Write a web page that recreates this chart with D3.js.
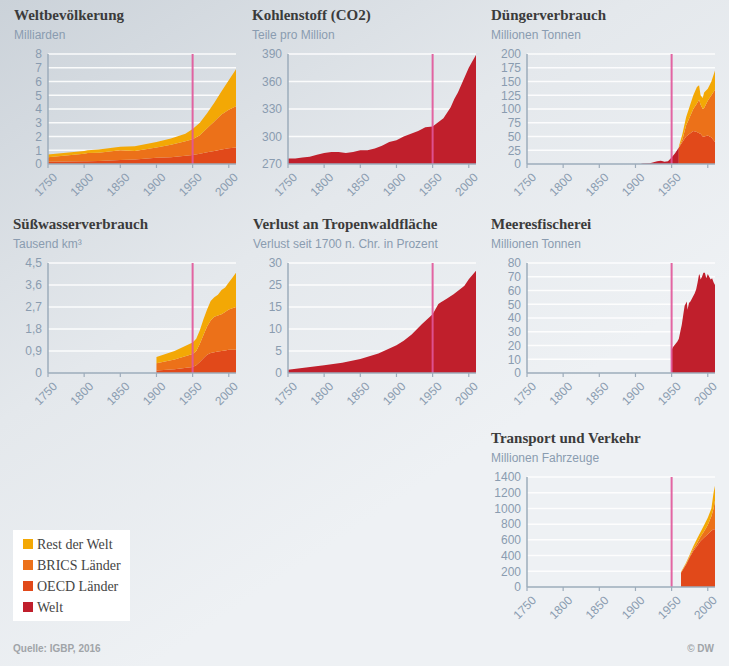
<!DOCTYPE html>
<html lang="de">
<head>
<meta charset="UTF-8">
<title>Die große Beschleunigung</title>
<script src="https://d3js.org/d3.v7.min.js"></script>
<style>
  body { margin: 0; }
  svg { display: block; }
</style>
</head>
<body>
<svg width="729" height="666"></svg>
<script>
const xTicks = [1750, 1800, 1850, 1900, 1950, 2000]
const legendNames = ["Rest der Welt", "BRICS Länder", "OECD Länder", "Welt"]

// Weltbevölkerung, Milliarden
const popYears = [1750, 1800, 1805, 1820, 1850, 1870, 1900, 1920, 1940, 1950, 1960, 1970, 1980, 1990, 2000, 2010]
const popOECD  = [0.17, 0.2, 0.2, 0.22, 0.3, 0.33, 0.45, 0.5, 0.6, 0.65, 0.75, 0.85, 0.95, 1.05, 1.15, 1.2]
const popBRICS = [0.33, 0.55, 0.6, 0.6, 0.7, 0.62, 0.75, 0.9, 1.05, 1.15, 1.35, 1.75, 2.15, 2.55, 2.8, 3.0]
const popRest  = [0.2, 0.2, 0.2, 0.23, 0.25, 0.35, 0.4, 0.45, 0.55, 0.75, 0.9, 1.1, 1.35, 1.7, 2.15, 2.7]

// Kohlenstoff (CO2), ppm
const co2Years  = [1750, 1760, 1770, 1780, 1790, 1800, 1810, 1820, 1830, 1840, 1850, 1860, 1870, 1880, 1890, 1900,
                   1910, 1920, 1930, 1940, 1950, 1955, 1960, 1965, 1970, 1975, 1980, 1985, 1990, 1995, 2000, 2005, 2010]
const co2Values = [276, 276, 277, 278, 280, 282, 283, 283, 282, 283, 285, 285, 287, 290, 294, 296,
                   300, 303, 306, 310, 311, 314, 317, 320, 326, 332, 341, 348, 357, 366, 375, 382, 389]

// Düngerverbrauch, Mio. t (Welt bis 1960, danach nach Ländergruppen)
const fertWorldYears  = [1907, 1910, 1920, 1925, 1930, 1935, 1938, 1940, 1945, 1950, 1955, 1960]
const fertWorldValues = [0, 1, 1.5, 3, 5, 6, 5, 4, 5, 12, 20, 30]
const fertYears = [1960, 1965, 1970, 1975, 1980, 1985, 1988, 1990, 1993, 1995, 2000, 2005, 2010]
const fertOECD  = [30, 40, 50, 55, 60, 58, 56, 55, 50, 50, 52, 48, 40]
const fertBRICS = [0, 5, 20, 30, 40, 52, 61, 53, 50, 52, 63, 77, 95]
const fertRest  = [2, 10, 15, 20, 25, 30, 26, 17, 20, 28, 22, 25, 35]

// Süßwasserverbrauch, Tausend km³
const waterYears = [1900, 1925, 1950, 1955, 1960, 1965, 1970, 1975, 1980, 1985, 1990, 1995, 2000, 2005, 2010]
const waterOECD  = [0.1, 0.15, 0.25, 0.32, 0.45, 0.6, 0.75, 0.82, 0.85, 0.88, 0.9, 0.92, 0.95, 0.95, 0.95]
const waterBRICS = [0.3, 0.4, 0.53, 0.58, 0.75, 0.95, 1.15, 1.33, 1.45, 1.47, 1.5, 1.58, 1.65, 1.7, 1.75]
const waterRest  = [0.25, 0.35, 0.47, 0.5, 0.55, 0.65, 0.7, 0.8, 0.8, 0.85, 1.0, 1.0, 1.1, 1.25, 1.4]

// Verlust an Tropenwaldfläche, % seit 1700
const forestYears  = [1750, 1775, 1800, 1825, 1850, 1875, 1900, 1910, 1921, 1935, 1950, 1958, 1961, 1970, 1979, 1991, 1994, 2000, 2010]
const forestValues = [0.9, 1.5, 2.1, 2.8, 3.8, 5.3, 7.6, 8.8, 10.5, 13.3, 16.0, 18.8, 19.2, 20.3, 21.5, 23.3, 23.8, 25.6, 27.9]
const forestTicks  = [0, 6, 12, 18, 24, 30]
const forestLabels = ["0", "5", "10", "15", "25", "30"]   // so beschriftet im Original

// Meeresfischerei, Mio. t
const fishYears  = [1950, 1952, 1955, 1958, 1960, 1962, 1964, 1966, 1968, 1970, 1971, 1972, 1974, 1976, 1978, 1980,
                    1982, 1984, 1986, 1988, 1989, 1990, 1992, 1994, 1996, 1998, 2000, 2002, 2004, 2006, 2008, 2010]
const fishValues = [17, 19, 21, 23, 25, 30, 35, 42, 49, 51, 52, 46, 51, 52, 54, 56,
                    58, 61, 66, 72, 71, 68, 70, 73, 73, 69, 72, 70, 68, 69, 66, 64]

// Transport und Verkehr, Mio. Fahrzeuge
const carYears = [1963, 1970, 1975, 1980, 1985, 1990, 1995, 2000, 2005, 2008, 2010]
const carOECD  = [180, 287, 380, 458, 520, 586, 630, 672, 715, 736, 736]
const carBRICS = [5, 8, 10, 22, 35, 54, 80, 118, 185, 264, 364]
const carRest  = [5, 15, 20, 40, 55, 60, 80, 90, 100, 200, 190]

// ---------- styles ----------
const colors = { rest: "#f3a805", brics: "#ec7119", oecd: "#e1491a", welt: "#c01f2c" }
const axisColor = "#9dacbb"
const labelColor = "#8a9cb0"
const markerColor = "#e2569a"

const svg = d3.select("svg")
const W = 729, H = 666

// background gradient
const defs = svg.append("defs")
const grad = defs.append("linearGradient").attr("id", "bg")
    .attr("x1", 0).attr("y1", 0).attr("x2", 0.55).attr("y2", 0.75)
grad.append("stop").attr("offset", 0).attr("stop-color", "#cbd2d9")
grad.append("stop").attr("offset", 0.55).attr("stop-color", "#e4e8ec")
grad.append("stop").attr("offset", 1).attr("stop-color", "#eef1f4")
svg.append("rect").attr("width", W).attr("height", H).attr("fill", "url(#bg)")

const colX = [48, 288, 527]
const rowY = [54, 263, 477]
const plotW = 188, plotH = 110

function stackRows(yrs, oecd, brics, rest) {
    return yrs.map(function (y, i) { return { year: y, oecd: oecd[i], brics: brics[i], rest: rest[i] } })
}
const stacker = d3.stack().keys(["oecd", "brics", "rest"])

function drawPanel(p) {
    let x0 = colX[p.col], y0 = rowY[p.row]
    let g = svg.append("g").attr("transform", `translate(${x0},${y0})`)
    let x = d3.scaleLinear().domain([1750, 2010]).range([0, plotW])
    let y = d3.scaleLinear().domain(p.yDomain).range([plotH, 0])

    // titles
    g.append("text").attr("x", p.titleDx).attr("y", -34)
        .attr("font-family", "Liberation Serif, serif").attr("font-weight", "bold")
        .attr("font-size", 15).attr("fill", "#3b3b3b").text(p.title)
    g.append("text").attr("x", p.titleDx).attr("y", -15)
        .attr("font-family", "Liberation Sans, Arial, sans-serif")
        .attr("font-size", 12).attr("fill", labelColor).text(p.sub)

    // grid
    g.append("g").selectAll("line").data(p.yTicks.slice(1)).enter().append("line")
        .attr("x1", 0).attr("x2", plotW)
        .attr("y1", d => y(d)).attr("y2", d => y(d))
        .attr("stroke", "#ffffff").attr("stroke-width", 1.5).attr("opacity", 0.9)

    // data
    p.draw(g, x, y)

    // 1950 marker
    g.append("line").attr("x1", x(1950)).attr("x2", x(1950))
        .attr("y1", 0).attr("y2", plotH)
        .attr("stroke", markerColor).attr("stroke-width", 2).attr("opacity", 0.9)

    // axes
    g.append("line").attr("x1", 0).attr("x2", 0).attr("y1", 0).attr("y2", plotH)
        .attr("stroke", axisColor).attr("stroke-width", 1.5)
    g.append("line").attr("x1", 0).attr("x2", plotW).attr("y1", plotH).attr("y2", plotH)
        .attr("stroke", axisColor).attr("stroke-width", 1.5)
    g.append("g").selectAll("line").data(xTicks).enter().append("line")
        .attr("x1", d => x(d)).attr("x2", d => x(d))
        .attr("y1", plotH).attr("y2", plotH + 4)
        .attr("stroke", axisColor).attr("stroke-width", 1.2)

    g.append("g").selectAll("text").data(p.yTicks).enter().append("text")
        .attr("x", -6).attr("y", d => y(d)).attr("dy", "0.36em")
        .attr("text-anchor", "end")
        .attr("font-family", "Liberation Sans, Arial, sans-serif")
        .attr("font-size", 12).attr("fill", labelColor)
        .text((d, i) => p.yLabels ? p.yLabels[i] : d)

    g.append("g").selectAll("text").data(p.xLabels || xTicks).enter().append("text")
        .attr("transform", d => `translate(${x(d) + 7},${plotH + 11}) rotate(-45)`)
        .attr("dy", "0.36em")
        .attr("text-anchor", "end")
        .attr("font-family", "Liberation Sans, Arial, sans-serif")
        .attr("font-size", 12).attr("fill", labelColor)
        .text(d => d)
}

function drawStack(g, x, y, rows) {
    let series = stacker(rows)
    let area = d3.area().x(d => x(d.data.year)).y0(d => y(d[0])).y1(d => y(d[1]))
    g.append("g").selectAll("path").data(series).enter().append("path")
        .attr("d", area).attr("fill", d => colors[d.key])
}

function drawSingle(g, x, y, yrs, vals) {
    let area = d3.area().x((d, i) => x(yrs[i])).y0(y(y.domain()[0])).y1(d => y(d))
    g.append("path").datum(vals).attr("d", area).attr("fill", colors.welt)
}

const panels = [
    {
        title: "Weltbevölkerung", sub: "Milliarden", col: 0, row: 0, titleDx: -34,
        yDomain: [0, 8], yTicks: d3.range(0, 9),
        draw: (g, x, y) => drawStack(g, x, y, stackRows(popYears, popOECD, popBRICS, popRest))
    },
    {
        title: "Kohlenstoff (CO2)", sub: "Teile pro Million", col: 1, row: 0, titleDx: -36,
        yDomain: [270, 390], yTicks: [270, 300, 330, 360, 390],
        draw: (g, x, y) => drawSingle(g, x, y, co2Years, co2Values)
    },
    {
        title: "Düngerverbrauch", sub: "Millionen Tonnen", col: 2, row: 0, titleDx: -36,
        yDomain: [0, 200], yTicks: d3.range(0, 201, 25), xLabels: [1750, 1800, 1850, 1900, 1950],
        draw: (g, x, y) => {
            drawSingle(g, x, y, fertWorldYears, fertWorldValues)
            drawStack(g, x, y, stackRows(fertYears, fertOECD, fertBRICS, fertRest))
        }
    },
    {
        title: "Süßwasserverbrauch", sub: "Tausend km³", col: 0, row: 1, titleDx: -35,
        yDomain: [0, 4.5], yTicks: [0, 0.9, 1.8, 2.7, 3.6, 4.5],
        yLabels: ["0", "0,9", "1,8", "2,7", "3,6", "4,5"],
        draw: (g, x, y) => drawStack(g, x, y, stackRows(waterYears, waterOECD, waterBRICS, waterRest))
    },
    {
        title: "Verlust an Tropenwaldfläche", sub: "Verlust seit 1700 n. Chr. in Prozent", col: 1, row: 1, titleDx: -35,
        yDomain: [0, 30], yTicks: forestTicks, yLabels: forestLabels,
        draw: (g, x, y) => drawSingle(g, x, y, forestYears, forestValues)
    },
    {
        title: "Meeresfischerei", sub: "Millionen Tonnen", col: 2, row: 1, titleDx: -36,
        yDomain: [0, 80], yTicks: d3.range(0, 81, 10),
        draw: (g, x, y) => drawSingle(g, x, y, fishYears, fishValues)
    },
    {
        title: "Transport und Verkehr", sub: "Millionen Fahrzeuge", col: 2, row: 2, titleDx: -36,
        yDomain: [0, 1400], yTicks: d3.range(0, 1401, 200),
        draw: (g, x, y) => drawStack(g, x, y, stackRows(carYears, carOECD, carBRICS, carRest))
    }
]
panels.forEach(drawPanel)

// legend
const legendColors = [colors.rest, colors.brics, colors.oecd, colors.welt]
let legend = svg.append("g").attr("transform", "translate(13,530)")
legend.append("rect").attr("width", 117).attr("height", 91).attr("fill", "#ffffff")
let items = legend.selectAll(".item").data(legendNames).enter().append("g")
    .attr("transform", (d, i) => `translate(10,${14 + i * 21})`)
items.append("rect").attr("x", 0).attr("y", -5).attr("width", 10).attr("height", 10)
    .attr("fill", (d, i) => legendColors[i])
items.append("text").attr("x", 14).attr("dy", "0.35em")
    .attr("font-family", "Liberation Serif, serif").attr("font-size", 14)
    .attr("fill", "#444").text(d => d)

// footer
svg.append("text").attr("x", 13).attr("y", 652)
    .attr("font-family", "Liberation Sans, Arial, sans-serif").attr("font-weight", "bold")
    .attr("font-size", 10).attr("fill", "#a0a4a8").text("Quelle: IGBP, 2016")
svg.append("text").attr("x", 714).attr("y", 652).attr("text-anchor", "end")
    .attr("font-family", "Liberation Sans, Arial, sans-serif").attr("font-weight", "bold")
    .attr("font-size", 10).attr("fill", "#a0a4a8").text("© DW")
</script>
</body>
</html>
